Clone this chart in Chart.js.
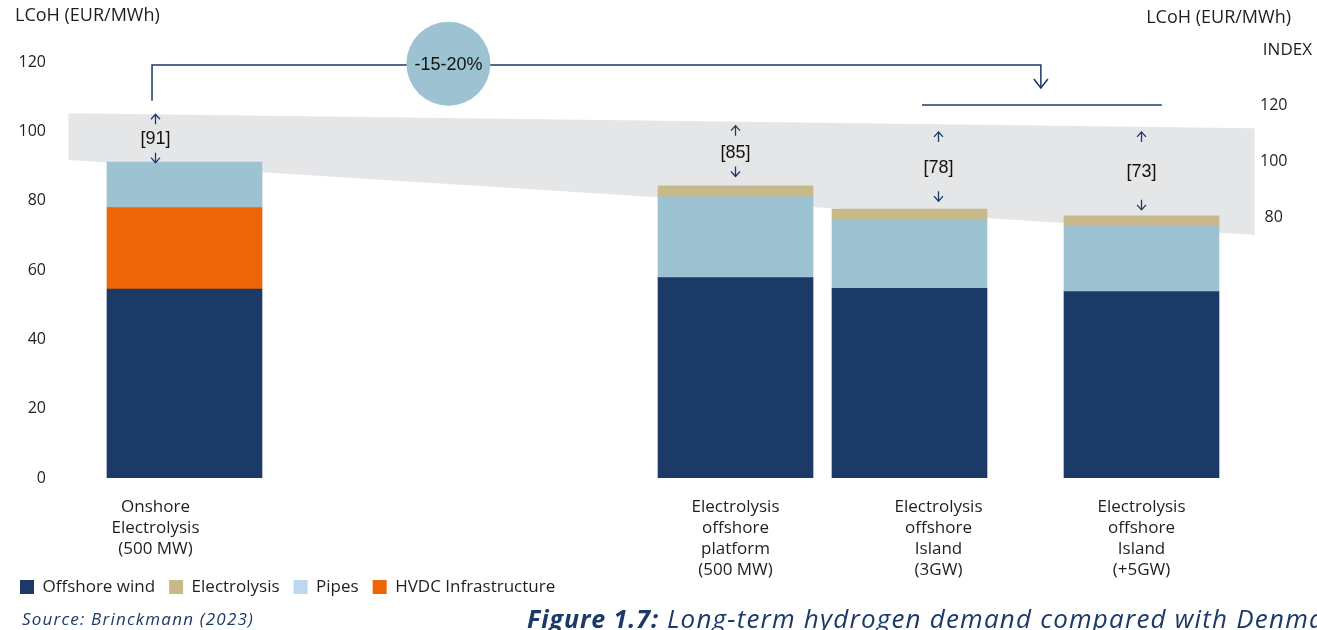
<!DOCTYPE html>
<html>
<head>
<meta charset="utf-8">
<script src="https://cdn.jsdelivr.net/npm/chart.js@4.4.0/dist/chart.umd.min.js"></script>
<style>
  html, body { margin: 0; padding: 0; background: #fff; overflow: hidden; }
  #wrap { position: relative; width: 1317px; height: 630px; overflow: hidden; }
  #source { position: absolute; left: 22px; top: 607px; font: italic 17px "Open Sans", sans-serif; letter-spacing: 1.2px; color: #1b3a68; white-space: nowrap; }
  #caption { position: absolute; left: 527px; top: 600px; font: italic 25px "Open Sans", sans-serif; letter-spacing: 0.9px; color: #1b3a68; white-space: nowrap; }
  #caption b { font-weight: 700; }
  #caption span { font-size: 26px; letter-spacing: 1.2px; }
</style>
</head>
<body>
<div id="wrap">
  <canvas id="chart" width="1317" height="630"></canvas>
  <div id="source">Source: Brinckmann (2023)</div>
  <div id="caption"><b>Figure 1.7:</b><span> Long-term hydrogen demand compared with Denmark</span></div>
</div>
<script>
// Categories (x labels) and stacked values, EUR/MWh
const categories = [
  ["Onshore", "Electrolysis", "(500 MW)"],
  ["Electrolysis", "offshore", "platform", "(500 MW)"],
  ["Electrolysis", "offshore", "Island", "(3GW)"],
  ["Electrolysis", "offshore", "Island", "(+5GW)"],
];
const offshoreWind = [54.5, 57.8, 54.7, 53.8];
const hvdc = [23.5, null, null, null];
const pipes = [13.1, 23.3, 19.7, 19.1];
const electrolysis = [null, 3.2, 3.2, 2.7];
const totalLabels = [91, 85, 78, 73];

// Index axis ticks (right side)
const indexTicks = [80, 100, 120];

// Layout of the category axis: empty slots give the uneven spacing
const slotCount = 41;
const barSlots = [4, 23, 29, 37];
const labelSlots = [3, 23, 30, 37];

// Annotation placement (slot units / y-axis units)
const arrowUp = [103.5, 100.2, 98.4, 98.4];
const labelY = [97.7, 93.8, 89.3, 88.3];
const arrowDown = [92.4, 88.4, 81.3, 78.8];
const band = { x0: 0, x1: 40.9, top0: 105.2, top1: 100.9, bottom0: 91.7, bottom1: 70.1 };
const bracket = { x0: 2.88, x1: 33.53, y: 119.1, start: 108.8, tip: 112.5, circleX: 13.1, circleY: 119.5 };
const indexLine = { x0: 29.43, x1: 37.7, y: 107.6 };

const navy = "#1b3a68";
const colors = {
  wind: "#1b3a68",
  hvdc: "#ec6608",
  pipes: "#9dc3d2",
  electrolysis: "#c8b98a",
  band: "#e5e6e8",
};
const legendRank = ["Offshore wind", "Electrolysis", "Pipes", "HVDC Infrastructure"];

const toSlots = (values, slots) => {
  const arr = new Array(slotCount).fill(null);
  values.forEach((v, i) => { arr[slots[i]] = v; });
  return arr;
};
const slotLabels = toSlots(categories, labelSlots).map(l => l || "");

Chart.defaults.font.family = '"Open Sans", sans-serif';
Chart.defaults.color = "#1f1f1f";

const drawArrow = (ctx, x, y, up) => {
  const d = up ? -1 : 1;
  ctx.beginPath();
  ctx.moveTo(x, y - 5 * d);
  ctx.lineTo(x, y + 5 * d);
  ctx.moveTo(x - 4.5, y);
  ctx.lineTo(x, y + 5 * d);
  ctx.lineTo(x + 4.5, y);
  ctx.stroke();
};

const overlay = {
  id: "overlay",
  // the legend sits tucked up against the long x labels, as in the original
  afterLayout(chart) {
    const lg = chart.legend;
    if (lg) { lg.top -= 17.5; lg.bottom -= 17.5; }
  },
  beforeDatasetsDraw(chart) {
    const { ctx, scales: { x, y } } = chart;
    ctx.save();
    ctx.fillStyle = colors.band;
    ctx.beginPath();
    ctx.moveTo(x.getPixelForValue(band.x0), y.getPixelForValue(band.top0));
    ctx.lineTo(x.getPixelForValue(band.x1), y.getPixelForValue(band.top1));
    ctx.lineTo(x.getPixelForValue(band.x1), y.getPixelForValue(band.bottom1));
    ctx.lineTo(x.getPixelForValue(band.x0), y.getPixelForValue(band.bottom0));
    ctx.closePath();
    ctx.fill();
    ctx.restore();
  },
  afterDatasetsDraw(chart) {
    const { ctx, scales: { x, y } } = chart;
    ctx.save();
    ctx.strokeStyle = navy;
    ctx.lineWidth = 1.3;

    // arrows and totals above each bar
    labelSlots.forEach((slot, i) => {
      const px = x.getPixelForValue(slot);
      drawArrow(ctx, px, y.getPixelForValue(arrowUp[i]), true);
      drawArrow(ctx, px, y.getPixelForValue(arrowDown[i]), false);
      ctx.fillStyle = "#111";
      ctx.font = '18px "Liberation Sans", sans-serif';
      ctx.textAlign = "center";
      ctx.textBaseline = "middle";
      ctx.fillText("[" + totalLabels[i] + "]", px, y.getPixelForValue(labelY[i]));
    });

    // bracket with reduction bubble
    ctx.lineWidth = 1.5;
    const bx0 = x.getPixelForValue(bracket.x0);
    const bx1 = x.getPixelForValue(bracket.x1);
    const by = y.getPixelForValue(bracket.y);
    const tipY = y.getPixelForValue(bracket.tip);
    ctx.beginPath();
    ctx.moveTo(bx0, y.getPixelForValue(bracket.start));
    ctx.lineTo(bx0, by);
    ctx.lineTo(bx1, by);
    ctx.lineTo(bx1, tipY);
    ctx.stroke();
    ctx.beginPath();
    ctx.moveTo(bx1 - 7, tipY - 9);
    ctx.lineTo(bx1, tipY);
    ctx.lineTo(bx1 + 7, tipY - 9);
    ctx.stroke();

    const cx = x.getPixelForValue(bracket.circleX);
    const cy = y.getPixelForValue(bracket.circleY);
    ctx.fillStyle = colors.pipes;
    ctx.beginPath();
    ctx.ellipse(cx, cy, 42, 42, 0, 0, Math.PI * 2);
    ctx.fill();
    ctx.fillStyle = "#111";
    ctx.font = '18px "Liberation Sans", sans-serif';
    ctx.textAlign = "center";
    ctx.textBaseline = "middle";
    ctx.fillText("-15-20%", cx, cy + 1);

    // index reference line
    ctx.beginPath();
    ctx.moveTo(x.getPixelForValue(indexLine.x0), y.getPixelForValue(indexLine.y));
    ctx.lineTo(x.getPixelForValue(indexLine.x1), y.getPixelForValue(indexLine.y));
    ctx.stroke();

    // axis titles
    ctx.fillStyle = "#1f1f1f";
    ctx.font = '18px "Open Sans", sans-serif';
    ctx.textAlign = "left";
    ctx.fillText("LCoH (EUR/MWh)", 15, 16);
    ctx.textAlign = "right";
    ctx.fillText("LCoH (EUR/MWh)", 1291, 18);
    ctx.font = '17px "Open Sans", sans-serif';
    ctx.fillText("INDEX", 1312, 50);
    ctx.restore();
  },
};

new Chart(document.getElementById("chart"), {
  type: "bar",
  plugins: [overlay],
  data: {
    labels: slotLabels,
    datasets: [
      { label: "Offshore wind", data: toSlots(offshoreWind, barSlots), backgroundColor: colors.wind },
      { label: "HVDC Infrastructure", data: toSlots(hvdc, barSlots), backgroundColor: colors.hvdc },
      { label: "Pipes", data: toSlots(pipes, barSlots), backgroundColor: colors.pipes },
      { label: "Electrolysis", data: toSlots(electrolysis, barSlots), backgroundColor: colors.electrolysis },
    ],
  },
  options: {
    responsive: false,
    animation: false,
    layout: { padding: { top: 62, bottom: 7, left: 6, right: 0 } },
    datasets: { bar: { barThickness: 155, borderWidth: 0 } },
    scales: {
      x: {
        stacked: true,
        grid: { display: false, drawTicks: false },
        border: { display: false },
        ticks: { autoSkip: false, maxRotation: 0, minRotation: 0, padding: 19, font: { size: 17, lineHeight: 1.235 } },
        afterFit: (s) => { s.height = 104; },
      },
      y: {
        stacked: true,
        min: 0,
        max: 120,
        grid: { display: false, drawTicks: false },
        border: { display: false },
        ticks: { stepSize: 20, padding: 8, font: { size: 16 } },
        afterFit: (s) => { s.width = 48; },
      },
      y2: {
        position: "right",
        min: -13.2,
        max: 135.4,
        grid: { display: false, drawTicks: false },
        border: { display: false },
        ticks: { padding: 17, crossAlign: "center", font: { size: 16 } },
        afterBuildTicks: (s) => { s.ticks = indexTicks.map(v => ({ value: v })); },
        afterFit: (s) => { s.width = 74; },
      },
    },
    plugins: {
      tooltip: { enabled: false },
      legend: {
        position: "bottom",
        align: "start",
        labels: {
          boxWidth: 14,
          boxHeight: 14,
          padding: 14,
          font: { size: 17 },
          color: "#1f1f1f",
          sort: (a, b) => legendRank.indexOf(a.text) - legendRank.indexOf(b.text),
          generateLabels: (chart) => Chart.defaults.plugins.legend.labels.generateLabels(chart).map(item => {
            if (item.text === "Pipes") item.fillStyle = "#bdd7ee";
            item.lineWidth = 0;
            return item;
          }),
        },
      },
    },
  },
});
</script>
</body>
</html>
